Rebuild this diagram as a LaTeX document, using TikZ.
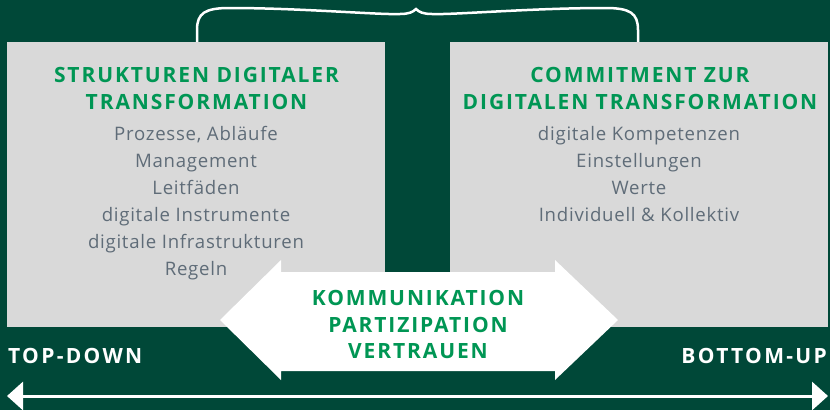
\documentclass[tikz,border=0pt]{standalone}
\usepackage{fontspec}
\setmainfont{Open Sans}
\newfontfamily\headfont[LetterSpace=9]{Open Sans}
\newfontfamily\itemfont[LetterSpace=4]{Open Sans}
\newfontfamily\sidefont[LetterSpace=11]{Open Sans}
\usetikzlibrary{arrows.meta}
\definecolor{bggreen}{RGB}{0,72,56}
\definecolor{boxgrey}{RGB}{217,217,217}
\definecolor{titlegreen}{RGB}{0,150,84}
\definecolor{textgrey}{RGB}{95,108,120}

\begin{document}
\begin{tikzpicture}[x=1pt,y=-1pt,
    panel/.style={fill=boxgrey,draw=none,minimum width=378pt,minimum height=285pt,inner sep=0pt},
    headline/.style={anchor=base,inner sep=0pt,text=titlegreen,font=\headfont\fontsize{21}{24}\selectfont\bfseries},
    item/.style={anchor=base,inner sep=0pt,text=textgrey,font=\itemfont\fontsize{18.6}{21}\selectfont},
    sidelabel/.style={inner sep=0pt,text=white,font=\sidefont\fontsize{21}{24}\selectfont\bfseries}]
    % Background
    \fill[bggreen] (0,0) rectangle (830,410);
    \useasboundingbox (0,0) rectangle (830,410);
    % Brace over both boxes
    \draw[white,line width=2.5pt]
      (197,42) -- (197,30) .. controls (197,13) and (205,8) .. (230,8)
      .. controls (300,8) and (380,15) .. (400,14)
      .. controls (409,14) and (413,12) .. (416,9)
      .. controls (419,12) and (423,14) .. (432,14)
      .. controls (452,15) and (532,8) .. (605,8)
      .. controls (630,8) and (638,13) .. (638,30) -- (638,42);
    % Left box
    \node[panel] (struk) at (196,184.5) {};
    \node[headline] (struktitle1) at (196.5,82) {STRUKTUREN DIGITALER};
    \node[headline] (struktitle2) at (196.5,109) {TRANSFORMATION};
    \foreach \txt [count=\i] in {{Prozesse, Abläufe},Management,Leitfäden,
      digitale Instrumente,digitale Infrastrukturen,Regeln}
      \node[item] (strukitem\i) at (196,140+27*\i-27) {\txt};
    % Right box
    \node[panel] (commit) at (639,184.5) {};
    \node[headline] (committitle1) at (640,82) {COMMITMENT ZUR};
    \node[headline] (committitle2) at (640,109) {DIGITALEN TRANSFORMATION};
    \foreach \txt [count=\i] in {digitale Kompetenzen,Einstellungen,Werte,
      Individuell \& Kollektiv}
      \node[item] (commititem\i) at (639,140+27*\i-27) {\txt};
    % Middle double arrow
    \fill[white] (220,320) -- (281,260) -- (281,272) -- (555,272) -- (555,260)
      -- (618,320) -- (555,380) -- (555,371) -- (281,371) -- (281,380) -- cycle;
    \node[headline] (komm) at (418,305) {KOMMUNIKATION};
    \node[headline] (parti) at (418,332) {PARTIZIPATION};
    \node[headline] (vertr) at (418,358) {VERTRAUEN};
    % Axis labels
    \node[sidelabel,anchor=base west] (topdown) at (8,363) {TOP-DOWN};
    \node[sidelabel,anchor=base east] (bottomup) at (827,363) {BOTTOM-UP};
    % Bottom axis
    \coordinate (axisleft) at (7,396);
    \coordinate (axisright) at (828,396);
    \draw[{Triangle[length=16pt,width=28pt]}-{Triangle[length=16pt,width=28pt]},
      white,line width=3pt] (axisleft) -- (axisright);
\end{tikzpicture}
\end{document}
